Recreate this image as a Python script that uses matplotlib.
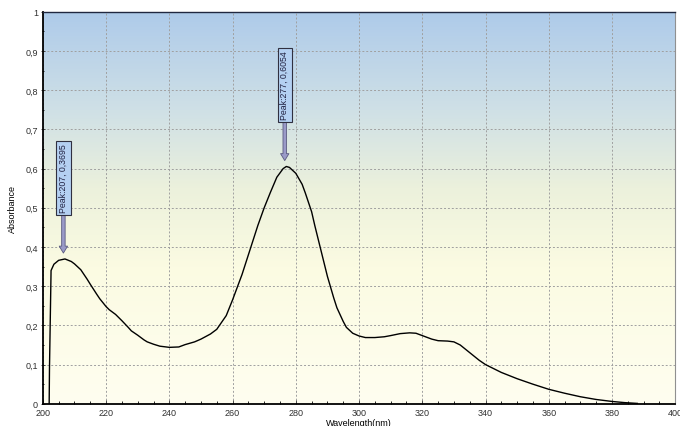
import numpy as np
import matplotlib.pyplot as plt
from matplotlib.colors import LinearSegmentedColormap
from matplotlib.ticker import MultipleLocator, FuncFormatter

# spectrum
wavelength = [202.0, 202.1, 202.6, 203.5, 205, 207, 209, 210, 212, 214, 215, 217, 218, 220,
              221, 223, 225, 227, 228, 230, 232, 233, 235, 237, 238, 240, 243, 245, 248, 250, 253,
              255, 258, 260, 263, 265, 268, 270, 272, 274, 276, 277, 278, 280,
              282, 283, 285, 286, 288, 290, 292, 293, 295, 296, 298, 300, 302,
              305, 308, 310, 313, 316, 318, 320, 323, 325, 328, 330, 332, 334,
              336, 338, 340, 345, 350, 355, 360, 365, 370, 375, 380, 384, 388]
absorbance = [0.0, 0.09, 0.34, 0.356, 0.366, 0.3695, 0.363, 0.357, 0.342, 0.318, 0.305, 0.28, 0.268, 0.248,
              0.24, 0.228, 0.212, 0.195, 0.186, 0.175, 0.163, 0.158, 0.152, 0.147, 0.146, 0.144, 0.145, 0.151, 0.158, 0.165, 0.178,
              0.19, 0.225, 0.265, 0.33, 0.38, 0.455, 0.5, 0.54, 0.578, 0.6, 0.6054, 0.603, 0.588,
              0.56, 0.538, 0.49, 0.455, 0.39, 0.325, 0.27, 0.245, 0.21, 0.195, 0.18, 0.173, 0.169,
              0.169, 0.171, 0.174, 0.179, 0.181, 0.18, 0.174, 0.165, 0.161, 0.16, 0.158, 0.15, 0.137,
              0.124, 0.111, 0.1, 0.08, 0.064, 0.05, 0.037, 0.027, 0.018, 0.011, 0.006, 0.003, 0.001]

peaks_x = [207, 277]
peaks_y = [0.3695, 0.6054]
peak_labels = ["Peak:207, 0,3695", "Peak:277, 0,6054"]

plt.rcParams['font.family'] = ['Liberation Sans', 'DejaVu Sans']

fig = plt.figure(figsize=(6.8, 4.27), dpi=100)
ax = fig.add_axes([0.063, 0.052, 0.93, 0.918])
ax.set_xlim(200, 400)
ax.set_ylim(0, 1)

# background gradient, blue at top to pale yellow at bottom
cmap = LinearSegmentedColormap.from_list(
    'bg', [(0.0, '#fffef0'), (0.35, '#fbfbe2'), (0.55, '#ecf1dc'), (0.75, '#cfe0e6'), (1.0, '#aecbea')])
grad = np.linspace(0, 1, 256).reshape(-1, 1)
ax.imshow(grad, extent=[200, 400, 0, 1], origin='lower', aspect='auto',
          cmap=cmap, zorder=0)

ax.grid(True, color='#a0a0a0', linestyle=(0, (2, 2)), linewidth=0.7, zorder=1)
ax.plot(wavelength, absorbance, color='black', linewidth=1.0, zorder=3)

for px, py, lab in zip(peaks_x, peaks_y, peak_labels):
    tip = py + 0.015
    box_bottom = tip + 0.1
    ax.annotate('', xy=(px - 0.5, tip), xytext=(px - 0.5, box_bottom),
                arrowprops=dict(facecolor='#9a9ac8', edgecolor='#5a5a80', width=2.5,
                                headwidth=6, headlength=5, shrink=0, lw=0.6),
                zorder=4)
    ax.text(px - 0.5, box_bottom + 0.005, lab, rotation=90, ha='center', va='bottom',
            fontsize=6.3, color='#202040', zorder=5,
            bbox=dict(boxstyle='square,pad=0.3', facecolor='#b4d0f2', edgecolor='#303040', lw=0.8))

ax.xaxis.set_major_locator(MultipleLocator(20))
ax.xaxis.set_minor_locator(MultipleLocator(5))
ax.yaxis.set_major_locator(MultipleLocator(0.1))
ax.yaxis.set_minor_locator(MultipleLocator(0.05))
ax.yaxis.set_major_formatter(FuncFormatter(
    lambda v, p: '0' if abs(v) < 1e-9 else ('1' if abs(v - 1) < 1e-9 else f'{v:.1f}'.replace('.', ','))))
ax.tick_params(axis='both', labelsize=6.5, colors='#303030', length=3, width=0.6)
ax.tick_params(axis='x', direction='in', pad=3)
ax.tick_params(axis='x', which='minor', direction='in', length=2)
ax.tick_params(axis='y', direction='inout', pad=2)
ax.tick_params(axis='y', which='minor', direction='inout', length=2)

for s in ['left', 'bottom']:
    ax.spines[s].set_linewidth(1.3)
    ax.spines[s].set_color('black')
ax.spines['top'].set_color('#202840')
ax.spines['top'].set_linewidth(1.0)
ax.spines['right'].set_color('#909090')
ax.spines['right'].set_linewidth(0.8)

ax.set_ylabel('Absorbance', fontsize=6.5, labelpad=6)
ax.set_xlabel('Wavelength(nm)', fontsize=6.5, labelpad=1)

fig.savefig('out.png', dpi=100)
